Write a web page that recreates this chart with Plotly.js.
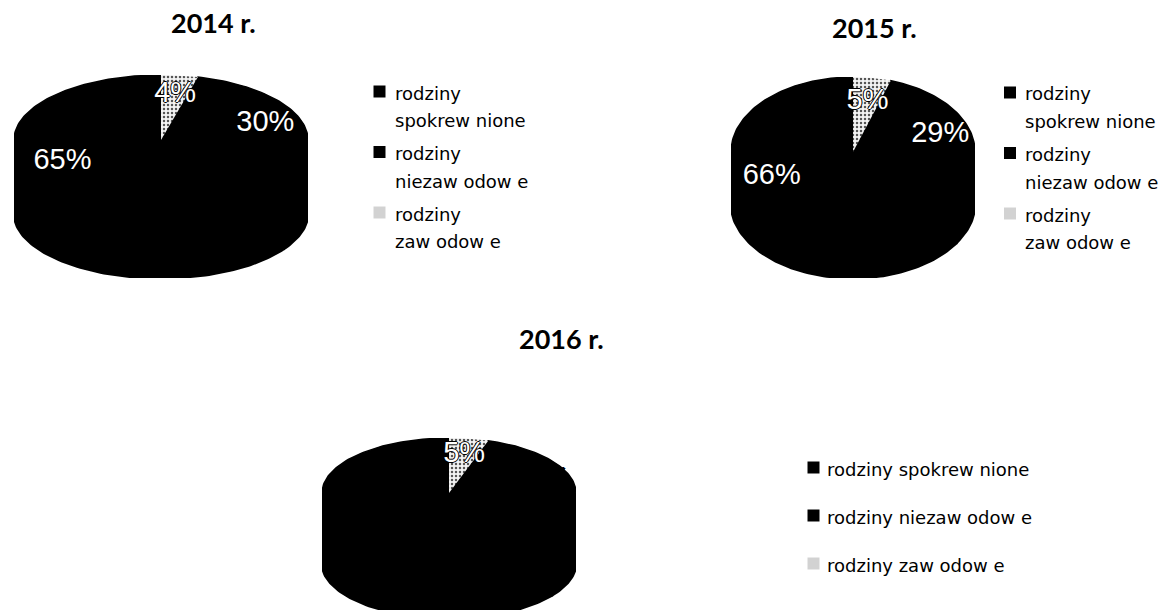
<!DOCTYPE html>
<html><head><meta charset="utf-8">
<script src="https://cdn.plot.ly/plotly-3.0.1.min.js"></script>
<style>html,body{margin:0;padding:0;background:#fff}#chart{width:1160px;height:610px}</style>
</head><body><div id="chart"></div>
<script>
// ---- data ----
const categories = ['rodziny spokrew nione', 'rodziny niezaw odow e', 'rodziny zaw odow e'];
const years = ['2014 r.', '2015 r.', '2016 r.'];
const values2014 = [65, 30, 4];
const values2015 = [66, 29, 5];
const values2016 = [65, 30, 5];

// ---- styling / layout ----
const W = 1160, H = 610;
const sliceColors = ['#000000', '#000000', '#f0f0f0'];
const legendColors = ['#000000', '#000000', '#d2d2d2'];
const allValues = [values2014, values2015, values2016];
const labelColors = [['#ffffff', '#ffffff', '#ffffff'], ['#ffffff', '#ffffff', '#ffffff'], ['#000000', '#000000', '#ffffff']];
const pieGeom = [
  {cx: 161, cy: 140, rx: 147, ry: 65, depth: 73, labelRx: 0.76, labelRy: 0.70, title: {x: 213.5, y: 23}},
  {cx: 853, cy: 152, rx: 122, ry: 75, depth: 51, labelRx: 0.76, labelRy: 0.68, title: {x: 874, y: 27}},
  {cx: 449, cy: 493, rx: 127, ry: 55, depth: 70, labelRx: 0.76, labelRy: 0.70, title: {x: 561, y: 338}}
];
const legendGeom = [
  {sqX: 379.5, textX: 393, firstBase: 99, itemGap: 60.5, lineGap: 28, twoLine: true},
  {sqX: 1010, textX: 1023, firstBase: 100, itemGap: 60.5, lineGap: 28, twoLine: true},
  {sqX: 813.5, textX: 825, firstBase: 475, itemGap: 48, lineGap: 0, twoLine: false}
];
const TEXT_FONT = 'DejaVu Sans, Liberation Sans, Arial, sans-serif';
const LABEL_FONT = 'Liberation Sans, Arial, sans-serif';
const TITLE_FONT = 'Lato, Open Sans, sans-serif';

function arcPts(a0, a1, dy) {
  const n = Math.max(2, Math.ceil(Math.abs(a1 - a0) / (2 * Math.PI) * 240));
  const xs = [], ys = [];
  for (let i = 0; i <= n; i++) {
    const a = a0 + (a1 - a0) * i / n;
    xs.push(Math.cos(a)); ys.push(Math.sin(a) + dy);
  }
  return {xs, ys};
}

const traces = [];
const layout = {
  width: W, height: H, margin: {l: 0, r: 0, t: 0, b: 0},
  paper_bgcolor: '#ffffff', plot_bgcolor: 'rgba(0,0,0,0)',
  showlegend: false, annotations: [], hovermode: false
};

pieGeom.forEach((g, k) => {
  const sfx = k === 0 ? '' : String(k + 1);
  const xa = 'x' + sfx, ya = 'y' + sfx;
  const bottomPx = Math.min(g.cy + g.ry + g.depth, H);
  const d = g.depth / g.ry;
  layout['xaxis' + sfx] = {domain: [(g.cx - g.rx) / W, (g.cx + g.rx) / W], range: [-1, 1], visible: false, fixedrange: true, anchor: ya};
  layout['yaxis' + sfx] = {domain: [(H - bottomPx) / H, (H - (g.cy - g.ry)) / H], range: [-(bottomPx - g.cy) / g.ry, 1], visible: false, fixedrange: true, anchor: xa};

  const vals = allValues[k];
  const total = vals.reduce((a, b) => a + b, 0);
  let cum = 0;
  const slices = vals.map((v, i) => {
    const a0 = Math.PI / 2 + cum / total * 2 * Math.PI;
    cum += v;
    const a1 = Math.PI / 2 + cum / total * 2 * Math.PI;
    return {a0, a1, i};
  });
  // sides (front half only)
  slices.forEach(s => {
    const st = Math.max(s.a0, Math.PI), en = Math.min(s.a1, 2 * Math.PI);
    if (en > st) {
      const top = arcPts(st, en, 0), bot = arcPts(en, st, -d);
      traces.push({type: 'scatter', mode: 'lines', xaxis: xa, yaxis: ya,
        x: top.xs.concat(bot.xs, [top.xs[0]]), y: top.ys.concat(bot.ys, [top.ys[0]]), fill: 'toself',
        fillcolor: sliceColors[s.i], line: {color: sliceColors[s.i], width: 3}, hoverinfo: 'skip'});
    }
  });
  // tops
  slices.forEach(s => {
    const a = arcPts(s.a0, s.a1, 0);
    const tr = {type: 'scatter', mode: 'lines', xaxis: xa, yaxis: ya,
      x: [0].concat(a.xs, [0]), y: [0].concat(a.ys, [0]), fill: 'toself',
      fillcolor: sliceColors[s.i], line: {color: sliceColors[s.i], width: s.i === 2 ? 0 : 1.5}, hoverinfo: 'skip'};
    if (s.i === 2) {
      tr.fillpattern = {shape: '.', fgcolor: '#555555', bgcolor: '#f4f4f4', size: 4, solidity: 0.3};
    }
    traces.push(tr);
  });
  // percentage labels
  const mids = slices.map(s => (s.a0 + s.a1) / 2);
  traces.push({type: 'scatter', mode: 'text', xaxis: xa, yaxis: ya, cliponaxis: false,
    x: mids.map(m => g.labelRx * Math.cos(m)), y: mids.map(m => g.labelRy * Math.sin(m)),
    text: vals.map(v => v + '%'), textposition: 'middle center',
    textfont: {family: LABEL_FONT, size: 29, color: labelColors[k],
      shadow: '1px 0 0 #000, -1px 0 0 #000, 0 1px 0 #000, 0 -1px 0 #000'},
    hoverinfo: 'skip'});

  // title
  layout.annotations.push({xref: 'paper', yref: 'paper', x: g.title.x / W, y: 1 - g.title.y / H,
    xanchor: 'center', yanchor: 'middle', showarrow: false, text: '<b>' + years[k] + '</b>',
    font: {family: TITLE_FONT, size: 27, color: '#000'}});

  // legend
  const lg = legendGeom[k];
  const sqY = [];
  categories.forEach((c, i) => {
    const base = lg.firstBase + i * lg.itemGap;
    sqY.push(base - 7.5);
    const lines = lg.twoLine ? [c.slice(0, c.indexOf(' ')), c.slice(c.indexOf(' ') + 1)] : [c];
    lines.forEach((ln, j) => {
      const b = base + j * lg.lineGap;
      layout.annotations.push({xref: 'paper', yref: 'paper', x: lg.textX / W, y: 1 - (b - 6) / H,
        xanchor: 'left', yanchor: 'middle', showarrow: false, text: ln,
        font: {family: TEXT_FONT, size: 18, color: '#000'}});
    });
  });
  traces.push({type: 'scatter', mode: 'markers', xaxis: 'x4', yaxis: 'y4', cliponaxis: false,
    x: categories.map(() => lg.sqX), y: sqY,
    marker: {symbol: 'square', size: 12, color: legendColors, line: {width: 0}}, hoverinfo: 'skip'});
});

layout.xaxis4 = {domain: [0, 1], range: [0, W], visible: false, fixedrange: true, anchor: 'y4'};
layout.yaxis4 = {domain: [0, 1], range: [H, 0], visible: false, fixedrange: true, anchor: 'x4'};

Plotly.newPlot('chart', traces, layout, {staticPlot: true, displayModeBar: false});
</script>
</body></html>
